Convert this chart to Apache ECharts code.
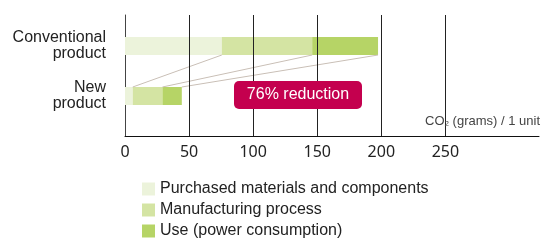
<!DOCTYPE html>
<html>
<head>
<meta charset="utf-8">
<script src="https://cdn.jsdelivr.net/npm/echarts@6/dist/echarts.min.js"></script>
<style>
  html, body { margin: 0; padding: 0; background: #fff; }
  #box { width: 542px; height: 240px; }
</style>
</head>
<body>
<div id="box"></div>
<script>
// data
var products = ['Conventional\nproduct', 'New\nproduct'];
var materials = [75, 6];
var manufacturing = [70, 23];
var powerUse = [51, 15];
var seriesNames = ['Purchased materials and components', 'Manufacturing process', 'Use (power consumption)'];
var tickValues = [50, 100, 150, 200, 250];
var axisMax = 323;

var colors = ['#ecf3db', '#d4e4a3', '#b6d466'];
var txtFont = '"Liberation Sans", Arial, sans-serif';

// running totals for the connector lines
var convCum = [], newCum = [];
(function () {
  var a = 0, b = 0;
  [materials, manufacturing, powerUse].forEach(function (s) {
    a += s[0]; b += s[1];
    convCum.push(a); newCum.push(b);
  });
})();

var myChart = echarts.init(document.getElementById('box'));

function barSeries(i, data) {
  return {
    name: seriesNames[i],
    type: 'bar',
    stack: 'co2',
    xAxisIndex: 1,
    yAxisIndex: 1,
    barWidth: 18,
    itemStyle: { color: colors[i] },
    silent: true,
    data: data
  };
}

var option = {
  animation: false,
  grid: [
    { left: 125, right: 0, top: 15, bottom: 104 },
    { left: 125, right: 0, top: 21, height: 100 }
  ],
  xAxis: [
    {
      gridIndex: 0, type: 'value', min: 0, max: axisMax, interval: 50,
      axisLine: { show: true, lineStyle: { color: '#111', width: 1 } },
      axisTick: { show: false },
      splitLine: { show: false },
      axisLabel: {
        margin: 8, fontSize: 16, color: '#222', fontFamily: '"Noto Sans", sans-serif',
        formatter: function (v) { return v <= 250 ? String(v) : ''; }
      }
    },
    {
      gridIndex: 1, type: 'value', min: 0, max: axisMax, show: false
    }
  ],
  yAxis: [
    {
      gridIndex: 0, type: 'value', min: 0, max: 1,
      axisLine: { show: true, lineStyle: { color: '#444', width: 1 } },
      axisTick: { show: false }, axisLabel: { show: false }, splitLine: { show: false }
    },
    {
      gridIndex: 1, type: 'category', inverse: true, data: products,
      axisLine: { show: false }, axisTick: { show: false },
      axisLabel: {
        margin: 19, fontSize: 16, lineHeight: 16, color: '#222',
        fontFamily: txtFont, align: 'right'
      }
    }
  ],
  legend: {
    orient: 'vertical', left: 142, top: 181, height: 80, padding: 0,
    itemWidth: 13, itemHeight: 13, itemGap: 5,
    icon: 'rect',
    selectedMode: false,
    data: seriesNames,
    textStyle: { fontSize: 16, lineHeight: 14, color: '#222', fontFamily: txtFont }
  },
  series: [
    {
      // vertical gridlines
      type: 'line', xAxisIndex: 0, yAxisIndex: 0, data: [],
      markLine: {
        silent: true, symbol: 'none', label: { show: false },
        lineStyle: { color: '#222', width: 1, type: 'solid' },
        data: tickValues.map(function (v) { return { xAxis: v }; })
      }
    },
    barSeries(0, materials),
    barSeries(1, manufacturing),
    barSeries(2, powerUse),
    {
      // connector lines between conventional and new bars
      type: 'custom', xAxisIndex: 1, yAxisIndex: 1, silent: true, z: 3,
      data: convCum.map(function (c, i) { return [c, newCum[i]]; }),
      renderItem: function (params, api) {
        var half = 9;
        var p1 = api.coord([api.value(0), 0]);
        var p2 = api.coord([api.value(1), 1]);
        return {
          type: 'line',
          shape: { x1: p1[0], y1: p1[1] + half, x2: p2[0], y2: p2[1] - half },
          style: { stroke: '#c9bfb6', lineWidth: 1 }
        };
      }
    }
  ],
  graphic: [
    {
      type: 'group', left: 234, top: 81, z: 100,
      children: [
        { type: 'rect', z: 100, shape: { x: 0, y: 0, width: 128, height: 28, r: 5 }, style: { fill: '#c4004e' } },
        { type: 'text', z: 101, x: 64, y: 14, style: { text: '76% reduction', fill: '#fff', font: '16px ' + txtFont, align: 'center', verticalAlign: 'middle' } }
      ]
    },
    {
      type: 'text', right: 2, top: 115, z: 100,
      style: {
        text: '{a|CO}{b|2}{a| (grams) / 1 unit}',
        rich: {
          a: { fontSize: 13, fontFamily: txtFont, fill: '#444' },
          b: { fontSize: 8, fontFamily: txtFont, fill: '#444', padding: [5, 0, 0, 0] }
        }
      }
    }
  ]
};

myChart.setOption(option);
</script>
</body>
</html>
